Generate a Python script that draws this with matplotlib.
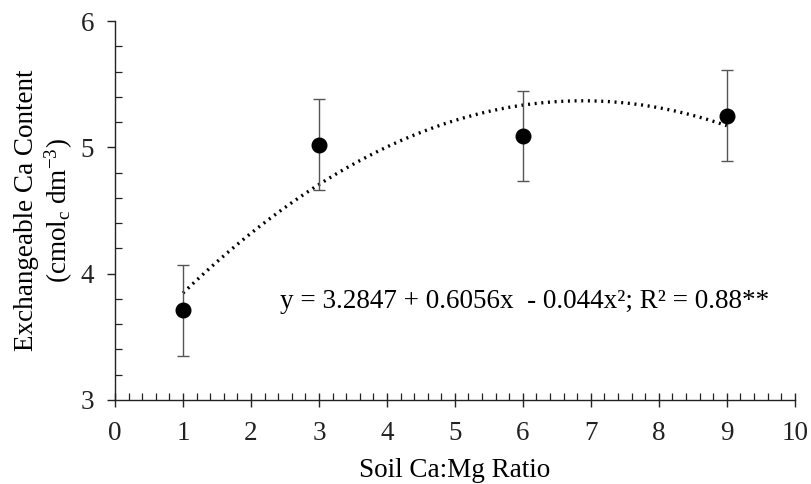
import numpy as np
import matplotlib
matplotlib.use("Agg")
import matplotlib.pyplot as plt
from matplotlib.ticker import MultipleLocator

plt.rcParams['font.family'] = ['Liberation Serif', 'DejaVu Serif']
plt.rcParams['mathtext.fontset'] = 'custom'
plt.rcParams['mathtext.rm'] = 'Liberation Serif'
plt.rcParams['mathtext.it'] = 'Liberation Serif:italic'

# data
ratio   = [1, 3, 6, 9]
ca      = [3.71, 5.02, 5.09, 5.25]
ca_err  = [0.36, 0.36, 0.355, 0.36]
# quadratic fit as printed on the chart
fit_coef = [-0.044, 0.6056, 3.2847]
fit_text = "y = 3.2847 + 0.6056x  - 0.044x\u00b2; R\u00b2 = 0.88**"

fig = plt.figure(figsize=(8.11, 4.84), dpi=100)
ax = fig.add_axes([0.1418, 0.1736, 0.8382, 0.783])

xf = np.linspace(ratio[0], ratio[-1], 200)
ax.plot(xf, np.polyval(fit_coef, xf), color='black', lw=2.4,
        linestyle=(0, (0.6, 1.4)), dash_capstyle='butt', zorder=2)

ax.errorbar(ratio, ca, yerr=ca_err, fmt='none', ecolor='#555555',
            elinewidth=1.0, capsize=4.5, capthick=1.0, zorder=3)
ax.plot(ratio, ca, 'o', color='black', ms=10.5, zorder=4)

ax.text(2.43, 3.78, fit_text, fontsize=19.5, va='center', ha='left')

ax.set_xlim(0, 10)
ax.set_ylim(3, 6)
ax.xaxis.set_major_locator(MultipleLocator(1))
ax.xaxis.set_minor_locator(MultipleLocator(0.2))
ax.yaxis.set_major_locator(MultipleLocator(1))
ax.yaxis.set_minor_locator(MultipleLocator(0.2))

for s in ['top', 'right']:
    ax.spines[s].set_visible(False)
for s in ['left', 'bottom']:
    ax.spines[s].set_linewidth(1.0)
    ax.spines[s].set_color('#222222')

ax.tick_params(axis='x', which='major', direction='inout', length=10,
               width=1.0, labelsize=19.5, pad=10, colors='#222222')
ax.tick_params(axis='x', which='minor', direction='in', length=5, width=0.9,
               colors='#222222')
ax.tick_params(axis='y', which='major', direction='out', length=6,
               width=1.0, labelsize=19.5, pad=9, colors='#222222')
ax.tick_params(axis='y', which='minor', direction='in', length=5, width=0.9,
               colors='#222222')

ax.set_xlabel("Soil Ca:Mg Ratio", fontsize=19.5, labelpad=9)
ax.set_ylabel("Exchangeable Ca Content\n(cmol$_\\mathrm{c}$ dm$^{-3}$)",
              fontsize=19.5, labelpad=4, linespacing=1.15)

fig.savefig("out.png", dpi=100)
